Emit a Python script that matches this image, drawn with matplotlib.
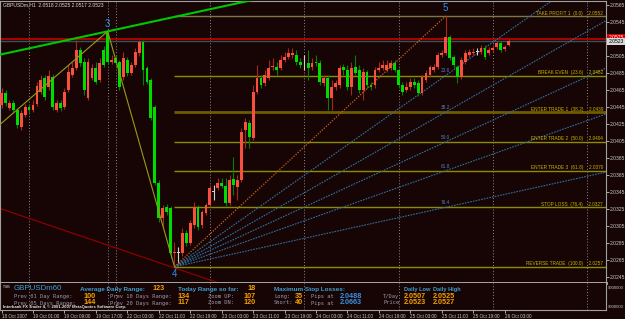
import numpy as np
import matplotlib.pyplot as plt

plt.rcParams['font.family'] = ['Liberation Sans', 'DejaVu Sans']

# GBPUSDm H1 bars, 18 Oct 2007 17:00 -> 26 Oct 04:00
# prices given as pips above 2.0000 (e.g. 447 -> 2.0447)
opens_pips = [447, 461, 444, 450, 441, 421, 436, 445, 441, 449,
              463, 479, 469, 480, 441, 450, 445, 465, 483, 491,
              512, 498, 456, 479, 491, 477, 512, 532, 498, 503,
              498, 480, 500, 485, 494, 509, 521, 491, 477, 445,
              356, 314, 327, 326, 273, 273, 273, 297, 285, 306,
              327, 306, 320, 330, 345, 350, 356, 352, 332, 360,
              351, 359, 418, 426, 409, 463, 479, 473, 479, 492,
              492, 491, 500, 504, 506, 506, 498, 494, 497, 492,
              498, 497, 473, 479, 456, 469, 471, 492, 489, 469,
              492, 489, 465, 486, 471, 471, 489, 491, 489, 491,
              497, 489, 471, 465, 469, 474, 473, 461, 477, 483,
              489, 492, 506, 509, 527, 504, 492, 480, 498, 506,
              509, 510, 510, 514, 509, 512, 516, 520, 513, 518]
closes_pips = [461, 450, 450, 441, 424, 438, 445, 441, 447, 470,
               477, 457, 481, 445, 450, 444, 463, 486, 491, 512,
               497, 465, 498, 491, 474, 497, 494, 498, 500, 497,
               469, 503, 485, 494, 510, 521, 489, 474, 432, 356,
               314, 326, 321, 273, 274, 273, 297, 285, 309, 327,
               304, 321, 330, 350, 345, 356, 352, 332, 359, 353,
               359, 416, 427, 410, 463, 479, 471, 483, 491, 493,
               489, 500, 504, 509, 509, 498, 494, 494, 491, 497,
               497, 474, 479, 456, 469, 473, 491, 489, 469, 491,
               485, 465, 486, 471, 469, 489, 491, 494, 494, 497,
               489, 471, 463, 469, 474, 471, 461, 480, 485, 492,
               492, 506, 509, 527, 503, 494, 480, 500, 509, 510,
               510, 510, 514, 504, 512, 514, 520, 512, 516, 523]
highs_pips = [467, 465, 453, 453, 444, 441, 449, 447, 453, 474,
              483, 483, 489, 484, 453, 453, 467, 494, 498, 524,
              516, 503, 503, 496, 498, 503, 517, 534, 506, 506,
              500, 510, 504, 498, 514, 524, 524, 493, 479, 447,
              359, 330, 331, 329, 286, 280, 303, 300, 312, 333,
              330, 324, 332, 353, 353, 361, 361, 361, 365, 386,
              365, 420, 432, 430, 471, 494, 483, 489, 500, 503,
              498, 506, 510, 514, 514, 512, 503, 506, 512, 503,
              506, 500, 483, 483, 477, 477, 494, 496, 494, 498,
              506, 494, 491, 489, 474, 492, 498, 500, 500, 500,
              500, 491, 474, 474, 479, 479, 477, 483, 489, 494,
              496, 510, 512, 552, 530, 506, 494, 504, 512, 513,
              514, 514, 518, 518, 516, 518, 523, 523, 518, 525]
lows_pips = [444, 446, 441, 438, 420, 418, 433, 438, 439, 446,
             460, 453, 465, 441, 439, 440, 443, 463, 480, 489,
             493, 459, 453, 477, 472, 474, 492, 496, 496, 493,
             465, 477, 481, 483, 492, 505, 471, 472, 430, 353,
             310, 304, 318, 267, 257, 261, 270, 281, 283, 303,
             300, 303, 318, 327, 336, 347, 350, 329, 330, 341,
             336, 357, 397, 397, 406, 460, 467, 470, 477, 489,
             483, 489, 498, 501, 503, 494, 491, 489, 477, 489,
             493, 471, 470, 441, 441, 465, 467, 483, 465, 459,
             483, 461, 453, 467, 465, 467, 486, 489, 486, 489,
             486, 467, 459, 463, 465, 467, 458, 459, 474, 480,
             486, 490, 504, 506, 500, 491, 473, 478, 496, 504,
             506, 506, 507, 501, 506, 510, 513, 510, 511, 517]

# fibonacci levels drawn from wave 4 low to wave 5 high
fib_names = ['TAKE PROFIT 1', 'BREAK EVEN', 'ENTER TRADE 1', 'ENTER TRADE 2',
             'ENTER TRADE 3', 'STOP LOSS', 'REVERSE TRADE']
fib_ratios = [0.0, 23.6, 38.2, 50.0, 61.8, 76.4, 100.0]
fib_prices = [2.0552, 2.0482, 2.0439, 2.0404, 2.0370, 2.0327, 2.0257]

# wave pivots
pivot_names = ['3', '4', '5']
pivot_idx = [27, 44, 113]
pivot_price = [2.0534, 2.0257, 2.0552]
zz_idx = [-8, 27, 44]
zz_price = [2.0394, 2.0534, 2.0257]

# trend lines (two anchors each)
green_idx = [5, 27]
green_price = [2.0512, 2.0534]
dred_idx = [0, 40]
dred_price = [2.0325, 2.0262]

ask_line = 2.0525
bid_line = 2.0523

sep_idx = [7, 27, 29, 53, 77, 101, 125, 149]
tick_idx = list(range(0, 129, 8))
tick_labels = ['18 Oct 2007', '19 Oct 01:00', '19 Oct 09:00', '19 Oct 17:00',
               '22 Oct 03:00', '22 Oct 11:00', '22 Oct 19:00', '23 Oct 03:00',
               '23 Oct 11:00', '23 Oct 19:00', '24 Oct 03:00', '24 Oct 11:00',
               '24 Oct 19:00', '25 Oct 03:00', '25 Oct 11:00', '25 Oct 19:00',
               '26 Oct 03:00']
price_ticks = [2.0245 + 0.002 * k for k in range(17) if k != 14]

# info panel values
adr, today_range = 123, 18
prev_ranges = {'01': 100, '05': 144, '10': 134, '20': 117}
zoom_up, zoom_dn = 107, 120
sl_long, sl_short = 35, 40
sl_long_at, sl_short_at = '2.0488', '2.0663'
tday_low, tday_high = '2.0507', '2.0525'
price_low, price_high = '2.0523', '2.0527'

BG = '#170505'
W, H = 625, 319
PITCH = 3.93


def fx(x):
    return x / W


def fy(y):
    return 1 - y / H


fig = plt.figure(figsize=(6.25, 3.19), dpi=100, facecolor=BG)
ax = fig.add_axes([0, fy(283), fx(606), fy(1) - fy(283)])
ax2 = fig.add_axes([0, fy(310), fx(606), fy(283) - fy(310)])
xr = 606 / PITCH - 0.4
for a in (ax, ax2):
    a.set_facecolor(BG)
    a.set_xlim(-0.4, xr)
    for s in a.spines.values():
        s.set_color('#a0a0a0')
        s.set_linewidth(0.8)
ax.set_ylim(2.0565 - 278 / 8500, 2.0565 + 4 / 8500)
ax.spines['bottom'].set_linewidth(2)
ax.spines['bottom'].set_color('#b4b4b4')
ax2.spines['top'].set_visible(False)
ax2.set_ylim(0, 1)
ax2.set_yticks([])

for i in sep_idx:
    ax.axvline(i, color='#8a8a8a', ls=(0, (1, 2)), lw=0.7, zorder=1)
    ax2.axvline(i, color='#8a8a8a', ls=(0, (1, 2)), lw=0.7, zorder=1)

# candles
op = np.array(opens_pips)
cp = np.array(closes_pips)
idx = np.arange(len(op))
o = 2 + op / 1e4
c = 2 + cp / 1e4
h = 2 + np.array(highs_pips) / 1e4
l = 2 + np.array(lows_pips) / 1e4
for mask, body, wick in [(cp > op, '#f8503c', '#a82818'),
                         (cp < op, '#00dc00', '#008200'),
                         (cp == op, '#d0d0d0', '#d0d0d0')]:
    ax.vlines(idx[mask], l[mask], h[mask], color=wick, lw=0.8, zorder=3)
    ax.bar(idx[mask], np.maximum(np.abs(c - o)[mask], 0.00009),
           bottom=np.minimum(o, c)[mask], width=0.72, color=body, lw=0, zorder=4)

# horizontal price lines
ax.axhline(ask_line, color='#c80000', lw=1.2, zorder=2)
ax.axhline(bid_line, color='#3c5252', lw=1, zorder=2)

# trend lines
gs = (green_price[1] - green_price[0]) / (green_idx[1] - green_idx[0])
ax.plot([-0.4, xr], [green_price[0] + gs * (-0.4 - green_idx[0]),
                     green_price[0] + gs * (xr - green_idx[0])],
        color='#00c800', lw=1.5, zorder=5)
ds = (dred_price[1] - dred_price[0]) / (dred_idx[1] - dred_idx[0])
ax.plot([-0.4, xr], [dred_price[0] + ds * (-0.4 - dred_idx[0]),
                     dred_price[0] + ds * (xr - dred_idx[0])],
        color='#8b0000', lw=0.9, zorder=2)

# zigzag
ax.plot(zz_idx, zz_price, color='#9a9a18', lw=0.8, zorder=5)

# fibonacci levels
fib_colors = ['#7d7646', '#8c8c00', '#6e5c00', '#8c8c00', '#8c8c00', '#8c8c00', '#8c8c00']
fib_widths = [1, 1, 2, 1, 1, 1, 1]
i4, i5 = pivot_idx[1], pivot_idx[2]
low, high = pivot_price[1], pivot_price[2]
for name, r, p, col, lw in zip(fib_names, fib_ratios, fib_prices, fib_colors, fib_widths):
    ax.hlines(p, i4, xr, colors=col, lw=lw, zorder=2)
    ax.text(0.995, p + 0.00005, f'{name}  ({r:.1f})    {p:.4f}',
            transform=ax.get_yaxis_transform(), ha='right', va='bottom',
            fontsize=3.4, color='#c8b400', zorder=6)

# fan lines
for r, p in zip(fib_ratios[1:6], fib_prices[1:6]):
    s = (p - low) / (i5 - i4)
    ax.plot([i4, xr], [low, low + s * (xr - i4)], color='#2f6f9f',
            ls=(0, (1.5, 1)), lw=0.8, zorder=2)
    ax.text(i5 - 1.3, p + 0.00025, f'{r:.1f}', ha='left', va='bottom',
            fontsize=3.4, color='#4f7fc8', zorder=6)
ax.plot([i4, i5], [low, high], color='#c8641e', ls=(0, (1, 1.2)), lw=0.9, zorder=5)

# wave labels
for name, i, p, up in zip(pivot_names, pivot_idx, pivot_price, [True, False, True]):
    ax.annotate(name, (i, p), xytext=(0, 2 if up else -1.5), textcoords='offset points',
                ha='center', va='bottom' if up else 'top', fontsize=7,
                color='#2f8fe8', zorder=7)

# right price axis
ax.yaxis.tick_right()
ax.set_yticks(price_ticks)
ax.set_yticklabels([f'{p:.4f}' for p in price_ticks])
ax.tick_params(axis='y', colors='#c8c8c8', labelsize=3.6, length=2, pad=1, width=0.6)
ax.tick_params(axis='x', bottom=False, labelbottom=False)
ax.text(1.004, ask_line + 0.0002, f'{ask_line:.4f}', transform=ax.get_yaxis_transform(),
        ha='left', va='center', fontsize=3.6, color='white',
        bbox=dict(boxstyle='square,pad=0.2', fc='#d40000', ec='none'))
ax.text(1.004, bid_line - 0.0001, f'{bid_line:.4f}', transform=ax.get_yaxis_transform(),
        ha='left', va='center', fontsize=3.6, color='black',
        bbox=dict(boxstyle='square,pad=0.2', fc='#d8d8d8', ec='none'))

# bottom time axis
ax2.set_xticks(tick_idx)
ax2.set_xticklabels(tick_labels, ha='left')
ax2.tick_params(axis='x', colors='#c8c8c8', labelsize=3.3, length=2, pad=1, width=0.6)

# header
fig.text(fx(3), fy(5), 'GBPUSDm,H1  2.0518 2.0525 2.0517 2.0523', fontsize=3.6,
         color='#d8d8d8', va='center')

# info panel
TEAL, ORANGE, GREY, BLUE = '#3c9ed0', '#f5a000', '#9a9aac', '#3a8fe0'


def t(x, y, s, color, size, bold=True, mono=False):
    fig.text(fx(x), fy(y), s, color=color, fontsize=size, va='center',
             fontweight='bold' if bold else 'normal',
             family='DejaVu Sans Mono' if mono else None)


t(3, 287, 'TSB', '#b0b0b0', 2.4)
t(14, 289, 'GBPUSDm60', TEAL, 5.7, bold=False)
t(80, 289, 'Average Daily Range:', TEAL, 4.6)
t(152, 289, str(adr), ORANGE, 5.2)
t(178, 289, 'Today Range so far:', TEAL, 4.6)
t(247, 289, str(today_range), ORANGE, 5.2)
t(274, 289, 'Maximum Stop Losses:', TEAL, 4.6)
t(404, 289, 'Daily Low', TEAL, 4.1)
t(433, 289, 'Daily High', TEAL, 4.1)

t(14, 296.5, 'Prev 01 Day Range:', GREY, 3.9, bold=False, mono=True)
t(83, 296.5, str(prev_ranges['01']), ORANGE, 5.2)
t(110, 296.5, 'Prev 10 Days Range:', GREY, 3.9, bold=False, mono=True)
t(177, 296.5, str(prev_ranges['10']), ORANGE, 5.2)
t(208, 296.5, 'Zoom UP:', GREY, 3.9, bold=False, mono=True)
t(243, 296.5, str(zoom_up), ORANGE, 5.2)
t(274, 296.5, 'Long:', GREY, 3.9, bold=False, mono=True)
t(295, 296.5, str(sl_long), ORANGE, 5.2)
t(311, 296.5, 'Pips at', GREY, 3.9, bold=False, mono=True)
t(340, 296.5, sl_long_at, BLUE, 5.2)
t(383, 296.5, 'T/Day', GREY, 3.9, bold=False, mono=True)
t(404, 296.5, tday_low, ORANGE, 5.2)
t(433, 296.5, tday_high, ORANGE, 5.2)

t(14, 303, 'Prev 05 Days Range:', GREY, 3.9, bold=False, mono=True)
t(83, 303, str(prev_ranges['05']), ORANGE, 5.2)
t(110, 303, 'Prev 20 Days Range:', GREY, 3.9, bold=False, mono=True)
t(177, 303, str(prev_ranges['20']), ORANGE, 5.2)
t(208, 303, 'Zoom DN:', GREY, 3.9, bold=False, mono=True)
t(243, 303, str(zoom_dn), ORANGE, 5.2)
t(274, 303, 'Short:', GREY, 3.9, bold=False, mono=True)
t(295, 303, str(sl_short), ORANGE, 5.2)
t(311, 303, 'Pips at', GREY, 3.9, bold=False, mono=True)
t(340, 303, sl_short_at, BLUE, 5.2)
t(383, 303, 'Price', GREY, 3.9, bold=False, mono=True)
t(404, 303, price_low, ORANGE, 5.2)
t(433, 303, price_high, ORANGE, 5.2)

t(3, 307, 'Interbank FX Trader 4, \u00a9 2001-2007 MetaQuotes Software Corp.', '#e8e8e8', 3.0)

t(608, 288, '9000000', '#c8c8c8', 3.0, bold=False)
t(608, 307, '9000000', '#c8c8c8', 3.0, bold=False)

fig.savefig('out.png', dpi=100, facecolor=BG)
